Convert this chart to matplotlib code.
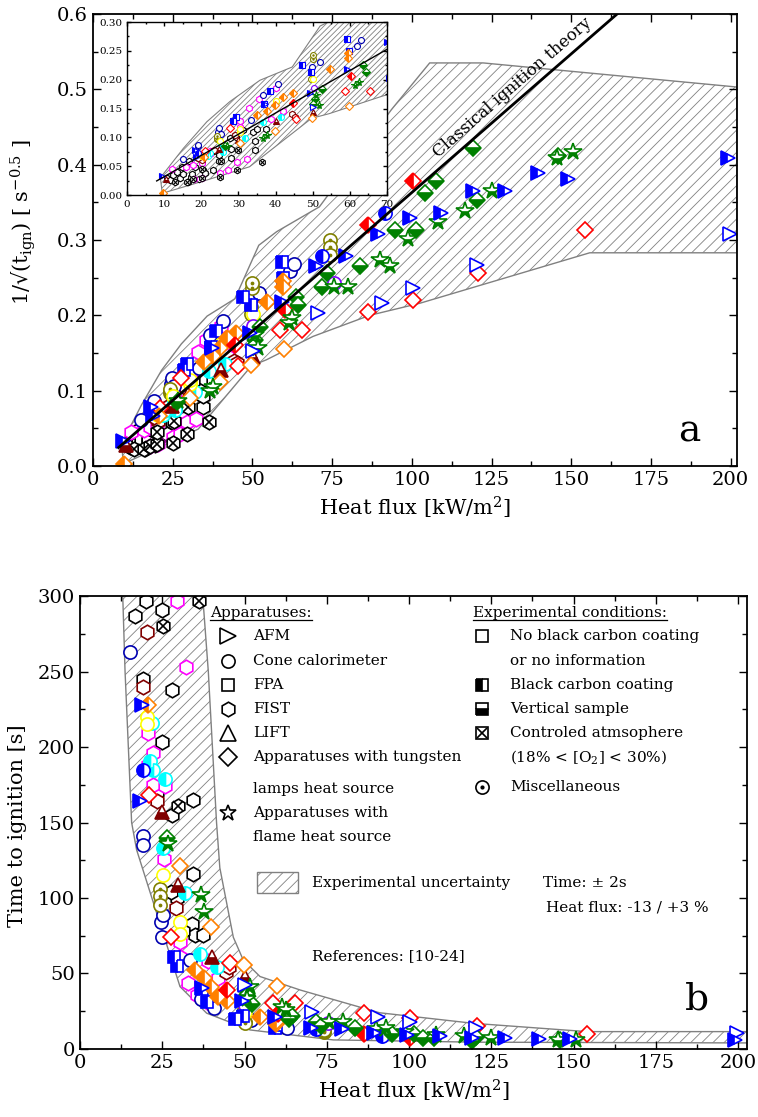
import numpy as np
import matplotlib
matplotlib.use('Agg')
import matplotlib.pyplot as plt
from matplotlib.patches import Polygon, Rectangle
from matplotlib.ticker import MultipleLocator, FormatStrFormatter

plt.rcParams['font.family'] = ['DejaVu Serif']
plt.rcParams['mathtext.fontset'] = 'dejavuserif'
plt.rcParams['hatch.linewidth'] = 0.6
plt.rcParams['hatch.color'] = 'gray'

# heat flux [kW/m2] and time to ignition [s], one pair of lists per series
afm_carbon_q = [9.5, 18.2, 18.7, 37.2, 49.3, 59.2, 70.1, 79.5, 89.4, 99.4, 109.3, 119.2, 129.2, 139.6, 149.0, 199.2]
afm_carbon_t = [900, 164, 228, 40.5, 32, 21, 14.2, 12.9, 10.5, 9.2, 8.9, 7.5, 7.5, 6.6, 6.9, 6.0]
afm_q = [50.2, 70.6, 90.5, 100.4, 120.3, 199.7]
afm_t = [42.7, 24.3, 21.4, 18.0, 14.0, 10.5]
fpa_carbon_q = [28.6, 29.4, 37.0, 38.5, 47.1, 49.5, 59.2, 59.7]
fpa_carbon_t = [61, 55, 40, 31, 19.8, 22, 13.6, 16]
cone_q = [15.2, 19.2, 19.2, 24.6, 24.8, 25.3, 33.4, 36.7, 40.7, 49.7, 52.0, 61.8, 62.9]
cone_t = [263, 141, 135, 84, 74, 89, 59, 33, 27, 20.3, 18.9, 14.9, 13.9]
cone_carbon_q = [19.2, 71.7, 91.7]
cone_carbon_t = [185, 12.9, 8.9]
cone_cyan_q = [21.3, 21.8, 22.3, 25.3, 25.8, 31.9, 36.5, 41.5]
cone_cyan_t = [191, 216, 185, 133, 179, 103, 63, 54.5]
cone_yellow_q = [20.3, 20.3, 25.1, 30.4, 30.4, 40.0, 50.2]
cone_yellow_t = [220, 215, 115, 84, 76, 38, 24.7]
cone_violet_q = [50.3, 75.5]
cone_violet_t = [29, 17]
misc_olive_q = [24.3, 24.3, 24.3, 49.5, 49.5, 50.0, 50.0, 74.3, 74.3, 74.3]
misc_olive_t = [106, 101, 95.4, 22.5, 24.5, 18, 17, 11.1, 11.8, 12.8]
fist_magenta_q = [12.0, 16.0, 18.0, 20.3, 25.0, 27.3, 29.5, 32.2, 20.8, 22.3, 20.8, 22.3, 25.8, 25.6,
                  30.4, 30.4, 38.8, 42.0, 32.9, 35.5, 40.0, 17.9, 20.1]
fist_magenta_t = [494, 434, 1372, 1189, 657, 541, 297, 253, 209, 196, 188, 175, 174, 126,
                  71, 61, 58, 47, 43.5, 35.8, 29, 370, 330]
fist_black_q = [10.7, 11.5, 12.5, 13.4, 14.2, 14.7, 15.2, 16.3, 17.3, 17.4, 18.4, 19.4, 20.1, 20.6, 21.0,
                23.1, 16.8, 24.8, 19.2, 27.9, 24.8, 23.3, 34.4, 28.0, 34.4, 29.4, 34.0, 35.0, 37.5, 27.7, 31.3]
fist_black_t = [1190, 1500, 816, 625, 1111, 416, 772, 1890, 977, 772, 434, 1275, 297, 516, 657,
                541, 287, 291, 245, 238, 203, 170, 165, 155, 116, 100, 83, 75.5, 75.5, 104, 78]
fist_maroon_q = [20.3, 19.2, 23.3, 29.2, 44.3, 45.2]
fist_maroon_t = [276, 240, 164, 93.6, 51, 54]
lift_q = [10.5, 24.8, 29.9, 40.0, 50.2]
lift_t = [1300, 157, 108.6, 61, 47.9]
lamp_red_q = [21.0, 27.7, 45.5, 58.6, 65.4, 86.3, 100.4, 120.8, 154.2]
lamp_red_t = [168, 74, 57, 30.5, 30.5, 23.8, 20.7, 15.3, 10.2]
lamp_red_carbon_q = [44.6, 60.2, 86.3, 100.4]
lamp_red_carbon_t = [39, 23.3, 9.8, 7.0]
lamp_orange_q = [30.4, 39.9, 49.7, 59.9]
lamp_orange_t = [121, 81, 55.7, 41.7]
lamp_orange_carbon_q = [9.8, 20.8, 34.9, 37.7, 39.9, 41.9, 44.8, 54.7, 59.6, 59.6]
lamp_orange_carbon_t = [110000, 228, 52, 47, 41, 34.4, 32, 21, 16.5, 17.8]
lamp_green_q = [26.3, 50.2, 50.7, 52.4, 63.6, 64.4, 71.7, 73.3, 83.7, 94.7, 101.4, 104.1, 107.7, 119.2, 120.3, 145.9]
lamp_green_t = [140, 40, 36, 29.5, 19.8, 21.8, 17.7, 15.3, 14.2, 10.2, 10.2, 7.6, 7.0, 5.6, 8.0, 5.9]
flame_green_q = [26.8, 36.7, 37.6, 50.9, 51.7, 61.4, 62.5, 75.7, 80.0, 90.0, 93.1, 98.8, 108.2, 116.6, 125.0, 145.4, 150.6]
flame_green_t = [136, 102, 91, 33, 41, 27.7, 26, 17.7, 17.7, 13.4, 14.2, 11, 9.5, 8.75, 7.5, 6.0, 5.75]
atm_q = [12.9, 16.1, 17.9, 20.1, 20.1, 25.0, 25.3, 29.5, 29.9, 36.3]
atm_t = [1890, 1890, 1372, 1189, 494, 1040, 280, 541, 161, 297]

# classical ignition theory: 1/sqrt(t) = slope * q + intercept
theory_slope = 0.00368
theory_intercept = -0.005
theory_q = [8, 165]

# uncertainty bands
band_a_upper_q = [9, 15.2, 21.5, 27.7, 35.8, 44.5, 52, 57.6, 71, 93.6, 105.6, 122.4, 202]
band_a_upper_v = [0.03, 0.081, 0.127, 0.162, 0.199, 0.222, 0.293, 0.311, 0.344, 0.473, 0.535, 0.535, 0.503]
band_a_lower_q = [202, 155.8, 102.5, 86.8, 69, 54.4, 49.7, 33, 21.5, 9.5]
band_a_lower_v = [0.283, 0.283, 0.216, 0.2, 0.172, 0.141, 0.133, 0.049, 0.026, 0.003]
band_b_upper_q = [37.0, 37.3, 39, 41.5, 42.5, 46.6, 49.6, 54.7, 67, 91, 119.5, 154, 203]
band_b_upper_t = [310, 300, 250, 150, 120, 74, 59, 48, 39, 24, 17, 11.5, 11.5]
band_b_lower_q = [203, 120, 77, 51.7, 38.5, 30.4, 17.2, 15.7, 13.7, 13.0, 12.9]
band_b_lower_t = [4, 4.5, 6, 12.6, 23.7, 41.3, 132, 150, 250, 300, 310]

series = [
    (fist_black_q, fist_black_t, 'h', 'black', 'none', None),
    (fist_magenta_q, fist_magenta_t, 'h', 'magenta', 'none', None),
    (fist_maroon_q, fist_maroon_t, 'h', '#800000', 'none', None),
    (atm_q, atm_t, 'h', 'black', 'none', 'cross'),
    (cone_q, cone_t, 'o', '#0000b0', 'none', None),
    (cone_cyan_q, cone_cyan_t, 'o', 'cyan', 'left', None),
    (misc_olive_q, misc_olive_t, 'o', '#808000', 'none', 'dot'),
    (cone_yellow_q, cone_yellow_t, 'o', 'yellow', 'none', None),
    (cone_violet_q, cone_violet_t, 'o', '#8000ff', 'none', None),
    (cone_carbon_q, cone_carbon_t, 'o', 'blue', 'left', None),
    (fpa_carbon_q, fpa_carbon_t, 's', 'blue', 'left', None),
    (lift_q, lift_t, '^', '#800000', 'bottom', None),
    (lamp_red_q, lamp_red_t, 'D', 'red', 'none', None),
    (lamp_orange_q, lamp_orange_t, 'D', '#ff8000', 'none', None),
    (lamp_orange_carbon_q, lamp_orange_carbon_t, 'D', '#ff8000', 'left', None),
    (lamp_red_carbon_q, lamp_red_carbon_t, 'D', 'red', 'left', None),
    (lamp_green_q, lamp_green_t, 'D', 'green', 'bottom', None),
    (flame_green_q, flame_green_t, '*', 'green', 'bottom', None),
    (afm_q, afm_t, '>', 'blue', 'none', None),
    (afm_carbon_q, afm_carbon_t, '>', 'blue', 'left', None),
]

SIZE = {'o': 9.5, '>': 10, 's': 8.5, 'h': 10.5, '^': 10, 'D': 8.5, '*': 13}


def draw_series(ax, q, t, marker, color, fill, extra, scale, lw, top):
    t = np.asarray(t, dtype=float)
    v = 1.0 / np.sqrt(t) if top else t
    ms = SIZE[marker] * scale
    if fill == 'none':
        ax.plot(q, v, linestyle='none', marker=marker, markersize=ms, markeredgecolor=color,
                markerfacecolor='white', markeredgewidth=lw)
    else:
        ax.plot(q, v, linestyle='none', marker=marker, markersize=ms, markeredgecolor=color,
                markerfacecolor=color, markerfacecoloralt='white', fillstyle=fill, markeredgewidth=lw)
    if extra == 'cross':
        ax.plot(q, v, linestyle='none', marker='x', markersize=ms * 0.75, color=color, markeredgewidth=lw)
    elif extra == 'dot':
        ax.plot(q, v, linestyle='none', marker='o', markersize=ms * 0.18, color=color)


def setup_ticks(ax, xmaj, xmin, ymaj, ymin, size, length):
    ax.xaxis.set_major_locator(MultipleLocator(xmaj))
    ax.xaxis.set_minor_locator(MultipleLocator(xmin))
    ax.yaxis.set_major_locator(MultipleLocator(ymaj))
    ax.yaxis.set_minor_locator(MultipleLocator(ymin))
    ax.tick_params(which='both', direction='in', top=True, right=True, labelsize=size, width=1)
    ax.tick_params(which='major', length=length)
    ax.tick_params(which='minor', length=length * 0.55)
    for s in ax.spines.values():
        s.set_linewidth(1.3)


fig = plt.figure(figsize=(7.58, 11.17), dpi=100)

# ---------------- panel a ----------------
ax1 = fig.add_axes([0.1227, 0.5828, 0.8496, 0.4047])
band_a = np.column_stack([band_a_upper_q + band_a_lower_q, band_a_upper_v + band_a_lower_v])
ax1.add_patch(Polygon(band_a, closed=True, facecolor='white', edgecolor='gray', hatch='///', lw=1, zorder=1))
tq = np.array(theory_q, dtype=float)
ax1.plot(tq, theory_slope * tq + theory_intercept, color='black', lw=2, zorder=3)
for q, t, m, c, f, e in series:
    draw_series(ax1, q, t, m, c, f, e, 1.0, 1.2, True)
ax1.text(131.7, 0.502, 'Classical ignition theory', rotation=41, ha='center', va='center', fontsize=12)
ax1.text(187, 0.032, 'a', fontsize=27, ha='center', va='baseline')
ax1.set_xlim(0, 202)
ax1.set_ylim(0, 0.6)
setup_ticks(ax1, 25, 12.5, 0.1, 0.05, 14, 6)
ax1.yaxis.set_major_formatter(FormatStrFormatter('%.1f'))
ax1.set_xlabel('Heat flux [kW/m$^2$]', fontsize=15)
ax1.set_ylabel('1/√(t$_{\\mathrm{ign}}$) [ s$^{-0.5}$ ]', fontsize=15)
ax1.yaxis.set_label_coords(-0.085, 0.54)

# inset
axin = fig.add_axes([0.1675, 0.8254, 0.343, 0.1549])
axin.add_patch(Polygon(band_a, closed=True, facecolor='white', edgecolor='gray', hatch='//////', lw=0.8, zorder=1))
axin.plot(tq, theory_slope * tq + theory_intercept, color='black', lw=1, zorder=3)
for q, t, m, c, f, e in series:
    draw_series(axin, q, t, m, c, f, e, 0.45, 0.8, True)
axin.set_xlim(0, 70)
axin.set_ylim(0, 0.30)
setup_ticks(axin, 10, 5, 0.05, 0.025, 7.5, 3)
axin.yaxis.set_major_formatter(FormatStrFormatter('%.2f'))
for s in axin.spines.values():
    s.set_linewidth(1)

# ---------------- panel b ----------------
ax2 = fig.add_axes([0.1055, 0.0609, 0.88, 0.4055])
band_b = np.column_stack([band_b_upper_q + band_b_lower_q, band_b_upper_t + band_b_lower_t])
ax2.add_patch(Polygon(band_b, closed=True, facecolor='white', edgecolor='gray', hatch='///', lw=1, zorder=1))
for q, t, m, c, f, e in series:
    draw_series(ax2, q, t, m, c, f, e, 1.0, 1.2, False)
ax2.text(187.4, 26.3, 'b', fontsize=27, ha='center', va='baseline')
ax2.set_xlim(0, 202.7)
ax2.set_ylim(0, 300)
setup_ticks(ax2, 25, 12.5, 50, 25, 14, 6)
ax2.set_xlabel('Heat flux [kW/m$^2$]', fontsize=15)
ax2.set_ylabel('Time to ignition [s]', fontsize=15)
ax2.yaxis.set_label_coords(-0.08, 0.494)

# legend block drawn in axes fractions
lfs = 11
tr = ax2.transAxes
hdr1 = ax2.text(0.1949, 0.9625, 'Apparatuses:', transform=tr, fontsize=lfs, ha='left', va='center')
hdr2 = ax2.text(0.5892, 0.9625, 'Experimental conditions:', transform=tr, fontsize=lfs, ha='left', va='center')

left_rows = [('>', 12, 'AFM', 0.9117), ('o', 9.5, 'Cone calorimeter', 0.8565), ('s', 8.5, 'FPA', 0.8035),
             ('h', 10.5, 'FIST', 0.7506), ('^', 11, 'LIFT', 0.6976), ('D', 9.5, 'Apparatuses with tungsten', 0.6446),
             (None, 0, 'lamps heat source', 0.5740), ('*', 12, 'Apparatuses with', 0.5210),
             (None, 0, 'flame heat source', 0.4680)]
for m, ms, label, fy in left_rows:
    if m is not None:
        ax2.plot([0.2219], [fy], marker=m, markersize=ms, markeredgecolor='black', markerfacecolor='white',
                 markeredgewidth=1.2, linestyle='none', transform=tr, clip_on=False)
    ax2.text(0.2594, fy, label, transform=tr, fontsize=lfs, ha='left', va='center')

right_rows = [('none', 'No black carbon coating', 0.9117), (None, 'or no information', 0.8565),
              ('left', 'Black carbon coating', 0.8035), ('bottom', 'Vertical sample', 0.7506),
              ('cross', 'Controled atmsophere', 0.6976), (None, '(18% < [O$_2$] < 30%)', 0.6446),
              ('dot', 'Miscellaneous', 0.5784)]
for kind, label, fy in right_rows:
    if kind in ('none', 'cross'):
        ax2.plot([0.6027], [fy], marker='s', markersize=8.5, markeredgecolor='black', markerfacecolor='white',
                 markeredgewidth=1.2, linestyle='none', transform=tr, clip_on=False)
    elif kind in ('left', 'bottom'):
        ax2.plot([0.6027], [fy], marker='s', markersize=8.5, markeredgecolor='black', markerfacecolor='black',
                 markerfacecoloralt='white', fillstyle=kind, markeredgewidth=1.2, linestyle='none',
                 transform=tr, clip_on=False)
    elif kind == 'dot':
        ax2.plot([0.6027], [fy], marker='o', markersize=9.5, markeredgecolor='black', markerfacecolor='white',
                 markeredgewidth=1.2, linestyle='none', transform=tr, clip_on=False)
        ax2.plot([0.6027], [fy], marker='o', markersize=2, color='black', linestyle='none', transform=tr)
    if kind == 'cross':
        ax2.plot([0.6027], [fy], marker='x', markersize=7, color='black', markeredgewidth=1.2,
                 linestyle='none', transform=tr, clip_on=False)
    ax2.text(0.6447, fy, label, transform=tr, fontsize=lfs, ha='left', va='center')

ax2.add_patch(Rectangle((0.2654, 0.3444), 0.0615, 0.0463, transform=tr, facecolor='white',
                        edgecolor='gray', hatch='///', lw=1))
ax2.text(0.3478, 0.3664, 'Experimental uncertainty', transform=tr, fontsize=lfs, ha='left', va='center')
ax2.text(0.6942, 0.3664, 'Time: ± 2s', transform=tr, fontsize=lfs, ha='left', va='center')
ax2.text(0.6987, 0.3113, 'Heat flux: -13 / +3 %', transform=tr, fontsize=lfs, ha='left', va='center')
ax2.text(0.3478, 0.2053, 'References: [10-24]', transform=tr, fontsize=lfs, ha='left', va='center')

# underline the two legend headers
fig.canvas.draw()
renderer = fig.canvas.get_renderer()
for h in (hdr1, hdr2):
    bb = h.get_window_extent(renderer).transformed(tr.inverted())
    ax2.plot([bb.x0, bb.x1], [bb.y0, bb.y0], color='black', lw=0.9, transform=tr, clip_on=False)

fig.savefig('out.png', dpi=100)
